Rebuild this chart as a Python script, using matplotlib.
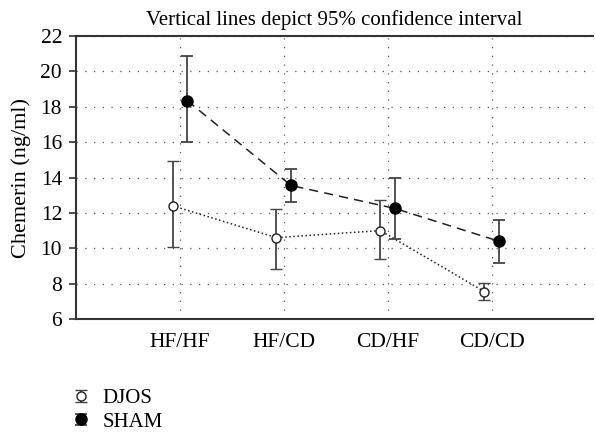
import numpy as np
import matplotlib.pyplot as plt
from matplotlib.legend_handler import HandlerErrorbar

plt.rcParams['font.family'] = ['Liberation Serif', 'DejaVu Serif']

groups = ["HF/HF", "HF/CD", "CD/HF", "CD/CD"]

# means and 95% CI bounds (ng/ml)
djos_mean = [12.4, 10.6, 11.0, 7.55]
djos_low = [10.05, 8.8, 9.4, 7.1]
djos_high = [14.95, 12.2, 12.75, 8.05]

sham_mean = [18.35, 13.55, 12.25, 10.4]
sham_low = [16.0, 12.6, 10.5, 9.15]
sham_high = [20.85, 14.5, 14.0, 11.6]

col = '#222222'
x = np.arange(1, len(groups) + 1)
off = 0.07

fig = plt.figure(figsize=(5.96, 4.32), dpi=100)
ax = fig.add_axes([0.1275, 0.2616, 0.868, 0.655])

dm = np.array(djos_mean)
sm = np.array(sham_mean)
djos_err = [dm - np.array(djos_low), np.array(djos_high) - dm]
sham_err = [sm - np.array(sham_low), np.array(sham_high) - sm]

h1 = ax.errorbar(x - off, dm, yerr=djos_err, fmt='o', ms=6.5, mfc='white', mec=col,
                 mew=1.0, ecolor='#444444', elinewidth=1.3, capsize=4, capthick=1.3,
                 color=col, zorder=3, label='DJOS')
ax.plot(x - off, dm, ls=':', color=col, lw=1.1, zorder=2)

h2 = ax.errorbar(x + off, sm, yerr=sham_err, fmt='o', ms=8, mfc='black', mec='black',
                 ecolor='#444444', elinewidth=1.3, capsize=4, capthick=1.3,
                 color=col, zorder=3, label='SHAM')
ax.plot(x + off, sm, ls=(0, (6, 4)), color=col, lw=1.1, zorder=2)

ax.set_xlim(0, 4.98)
ax.set_ylim(6, 22)
ax.set_yticks(np.arange(6, 23, 2))
ax.set_xticks(x)
ax.set_xticklabels(groups, fontsize=15.5)
ax.tick_params(axis='y', labelsize=15.5, length=5, width=1.2, color='#333333', pad=5)
ax.tick_params(axis='x', length=0, pad=10)
ax.grid(True, ls=(0, (1, 6)), color='#555555', lw=0.9)
ax.set_axisbelow(True)

for s in ['left', 'bottom', 'top']:
    ax.spines[s].set_color('#333333')
    ax.spines[s].set_linewidth(1.5)
ax.spines['right'].set_visible(False)
ax.patch.set_edgecolor('none')

ax.set_ylabel("Chemerin (ng/ml)", fontsize=16, labelpad=7)
ax.set_title("Vertical lines depict 95% confidence interval", fontsize=15, pad=8)

fig.legend(handles=[h1, h2], labels=['DJOS', 'SHAM'], loc='upper left',
           bbox_to_anchor=(0.105, 0.125), frameon=False, fontsize=15,
           handlelength=0.8, handletextpad=0.6, labelspacing=0.2, borderpad=0,
           handler_map={type(h1): HandlerErrorbar(xerr_size=0.3, yerr_size=0.28)})

fig.savefig('out.png', dpi=100)
